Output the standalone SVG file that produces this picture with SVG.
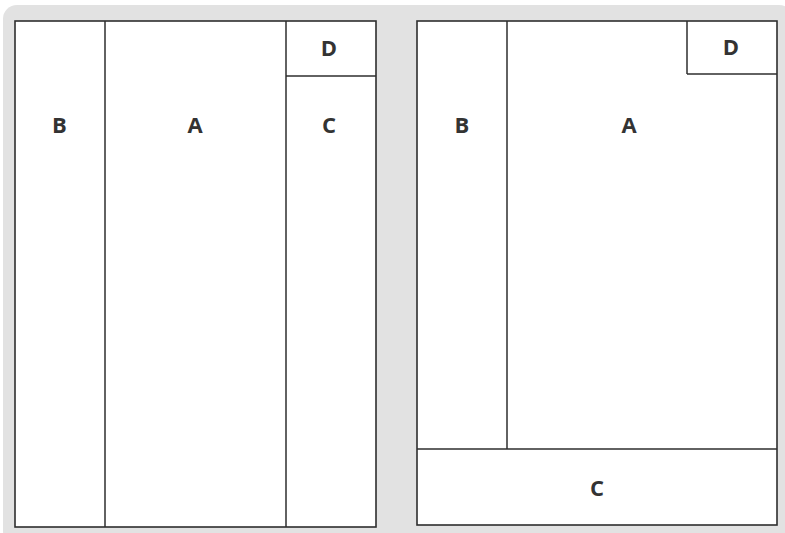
<svg xmlns="http://www.w3.org/2000/svg" width="785" height="533" viewBox="0 0 785 533">
<style>
.box{fill:#fff;stroke:#2e2e2e;stroke-width:1.6}
.ln{stroke:#2e2e2e;stroke-width:1.5;fill:none}
.lbl{font-family:"Open Sans","Liberation Sans",sans-serif;font-weight:bold;font-size:22px;fill:#333;text-anchor:middle}
</style>
<rect x="0" y="0" width="785" height="533" fill="#fff"/>
<rect x="3" y="5" width="790" height="540" rx="14" fill="#e2e2e2"/>
<g id="left-panel">
<rect class="box" x="15" y="21" width="361" height="506"/>
<g id="L-B"><text class="lbl" x="59.5" y="133">B</text></g>
<g id="L-A"><text class="lbl" x="195" y="133">A</text></g>
<g id="L-C"><text class="lbl" x="329" y="133">C</text></g>
<g id="L-D"><text class="lbl" x="329" y="56">D</text></g>
</g>
<g id="right-panel">
<rect class="box" x="417" y="21" width="360" height="504"/>
<g id="R-B"><text class="lbl" x="462" y="133">B</text></g>
<g id="R-A"><text class="lbl" x="629" y="133">A</text></g>
<g id="R-D"><text class="lbl" x="731" y="55">D</text></g>
<g id="R-C"><text class="lbl" x="597" y="496">C</text></g>
</g>
<g id="connectors">
<line class="ln" x1="105" y1="21" x2="105" y2="527"/>
<line class="ln" x1="286" y1="21" x2="286" y2="527"/>
<line class="ln" x1="286" y1="76" x2="376" y2="76"/>
<line class="ln" x1="507" y1="21" x2="507" y2="449"/>
<line class="ln" x1="417" y1="449" x2="777" y2="449"/>
<line class="ln" x1="687" y1="21" x2="687" y2="74"/>
<line class="ln" x1="687" y1="74" x2="777" y2="74"/>
</g>
</svg>
